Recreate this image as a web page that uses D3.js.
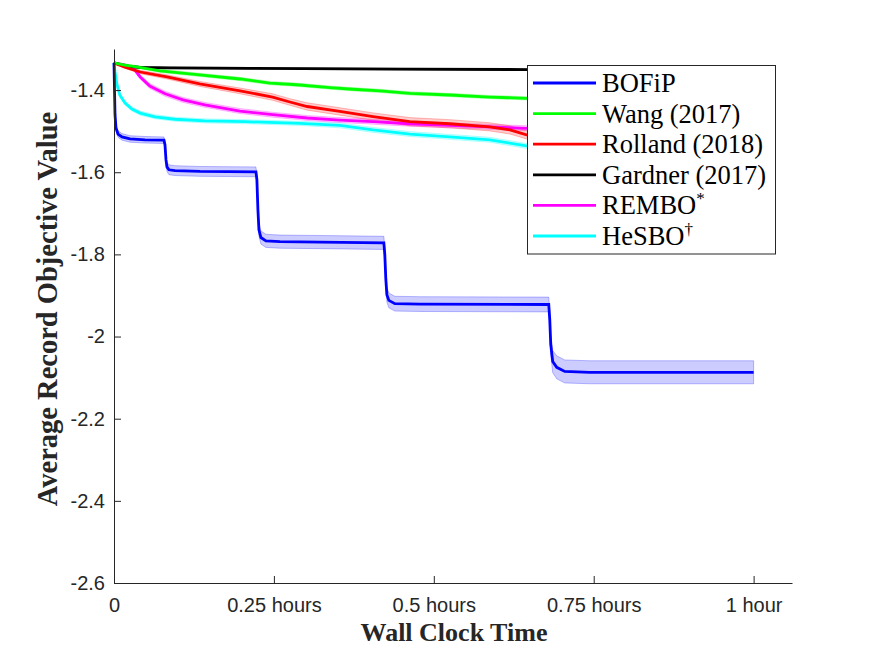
<!DOCTYPE html>
<html>
<head>
<meta charset="utf-8">
<script src="https://cdn.jsdelivr.net/npm/d3@7"></script>
<style>
  body { margin: 0; background: #fff; }
  svg { display: block; }
  .axis path, .axis line { stroke: #262626; stroke-width: 1; }
  .axis text { font-family: "Liberation Sans", Arial, sans-serif; font-size: 20px; fill: #262626; }
  .label { font-family: "Liberation Serif", "Times New Roman", serif; font-weight: bold; fill: #262626; }
  .legend text { font-family: "Liberation Serif", "Times New Roman", serif; font-size: 26.5px; fill: #000; }
  .band { fill-opacity: 0.2; stroke-opacity: 0.25; stroke-width: 1; }
  .line { fill: none; stroke-width: 2.8; }
</style>
</head>
<body>
<svg></svg>
<script>
const hourTicks = [0, 0.25, 0.5, 0.75, 1];
const hourLabels = ["0", "0.25 hours", "0.5 hours", "0.75 hours", "1 hour"];
const valueTicks = [-1.4, -1.6, -1.8, -2, -2.2, -2.4, -2.6];

const methodNames = ["BOFiP", "Wang (2017)", "Rolland (2018)", "Gardner (2017)", "REMBO", "HeSBO"];
const methodMarks = ["", "", "", "", "*", "\u2020"];
const methodColors = ["#0000ff", "#00ff00", "#ff0000", "#000000", "#ff00ff", "#00ffff"];

// each point: [hours, average record value, half width of the shaded band]
const bofip = [
  [0, -1.334, 0.002], [0.0008, -1.4, 0.004], [0.0016, -1.46, 0.006], [0.0031, -1.492, 0.007],
  [0.0063, -1.507, 0.008], [0.0125, -1.514, 0.008], [0.025, -1.519, 0.008], [0.0484, -1.521, 0.008],
  [0.0781, -1.522, 0.008], [0.0797, -1.533, 0.009], [0.0813, -1.57, 0.01], [0.0828, -1.587, 0.011],
  [0.0859, -1.594, 0.012], [0.0953, -1.596, 0.012], [0.1344, -1.598, 0.012], [0.2219, -1.599, 0.012],
  [0.2234, -1.618, 0.013], [0.225, -1.691, 0.014], [0.2266, -1.74, 0.015], [0.2297, -1.759, 0.016],
  [0.2375, -1.767, 0.016], [0.2594, -1.769, 0.016], [0.3219, -1.77, 0.016], [0.4219, -1.772, 0.016],
  [0.4234, -1.801, 0.017], [0.425, -1.861, 0.018], [0.4266, -1.898, 0.018], [0.4297, -1.912, 0.018],
  [0.4391, -1.92, 0.018], [0.4781, -1.921, 0.018], [0.6797, -1.922, 0.018], [0.6813, -1.959, 0.02],
  [0.6828, -2.019, 0.024], [0.6859, -2.061, 0.027], [0.6922, -2.075, 0.028], [0.7047, -2.085, 0.028],
  [0.7438, -2.087, 0.028], [1, -2.087, 0.028]
];
const wang = [
  [0, -1.334, 0.002], [0.017, -1.339, 0.003], [0.0375, -1.344, 0.003], [0.072, -1.353, 0.004],
  [0.134, -1.363, 0.004], [0.197, -1.373, 0.004], [0.244, -1.383, 0.004], [0.286, -1.387, 0.004],
  [0.3375, -1.394, 0.004], [0.373, -1.398, 0.004], [0.416, -1.402, 0.004], [0.4625, -1.408, 0.004],
  [0.525, -1.412, 0.004], [0.5875, -1.417, 0.004], [0.645, -1.42, 0.004], [0.759, -1.426, 0.004],
  [0.884, -1.431, 0.004], [1, -1.436, 0.004]
];
const rolland = [
  [0, -1.334, 0.002], [0.017, -1.344, 0.003], [0.041, -1.356, 0.004], [0.083, -1.368, 0.005],
  [0.134, -1.385, 0.006], [0.197, -1.402, 0.007], [0.248, -1.417, 0.008], [0.275, -1.429, 0.008],
  [0.302, -1.44, 0.009], [0.353, -1.452, 0.009], [0.405, -1.4645, 0.009], [0.4625, -1.477, 0.01],
  [0.525, -1.482, 0.01], [0.5875, -1.4895, 0.01], [0.619, -1.497, 0.01], [0.645, -1.509, 0.01],
  [0.759, -1.521, 0.01], [0.884, -1.536, 0.01], [1, -1.545, 0.01]
];
const gardner = [
  [0, -1.334, 0.002], [0.017, -1.341, 0.002], [0.041, -1.345, 0.002], [0.0875, -1.346, 0.002],
  [0.2125, -1.347, 0.002], [0.447, -1.349, 0.002], [0.645, -1.35, 0.002], [1, -1.351, 0.002]
];
const rembo = [
  [0, -1.334, 0.002], [0.017, -1.339, 0.003], [0.03, -1.346, 0.004], [0.041, -1.368, 0.005],
  [0.056, -1.39, 0.006], [0.08, -1.409, 0.006], [0.108, -1.424, 0.006], [0.142, -1.436, 0.006],
  [0.197, -1.451, 0.006], [0.248, -1.46, 0.006], [0.302, -1.468, 0.006], [0.353, -1.473, 0.006],
  [0.405, -1.477, 0.006], [0.4625, -1.482, 0.006], [0.525, -1.486, 0.006], [0.5875, -1.4895, 0.006],
  [0.645, -1.493, 0.006], [0.759, -1.499, 0.006], [0.884, -1.507, 0.006], [1, -1.511, 0.006]
];
const hesbo = [
  [0, -1.334, 0.002], [0.0016, -1.356, 0.003], [0.0047, -1.387, 0.004], [0.009, -1.412, 0.005],
  [0.017, -1.431, 0.005], [0.028, -1.446, 0.005], [0.041, -1.456, 0.005], [0.064, -1.465, 0.005],
  [0.095, -1.471, 0.005], [0.142, -1.475, 0.005], [0.205, -1.477, 0.005], [0.291, -1.481, 0.005],
  [0.353, -1.486, 0.006], [0.405, -1.497, 0.006], [0.4625, -1.507, 0.006], [0.525, -1.514, 0.006],
  [0.5875, -1.521, 0.006], [0.645, -1.536, 0.006], [0.759, -1.55, 0.006], [0.884, -1.565, 0.006],
  [1, -1.579, 0.006]
];

const series = [bofip, wang, rolland, gardner, rembo, hesbo];
// plotting order, last one ends up on top
const drawOrder = [5, 4, 3, 2, 1, 0];

const svg = d3.select("svg").attr("width", 875).attr("height", 656);

const xScale = d3.scaleLinear().domain([0, 1.06]).range([114, 792]);
const yScale = d3.scaleLinear().domain([-2.6, -1.3]).range([583, 49]);

const band = d3
  .area()
  .x(d => xScale(d[0]))
  .y0(d => yScale(d[1] - d[2]))
  .y1(d => yScale(d[1] + d[2]));

const line = d3
  .line()
  .x(d => xScale(d[0]))
  .y(d => yScale(d[1]));

svg
  .selectAll("path.band")
  .data(drawOrder)
  .enter()
  .append("path")
  .attr("class", "band")
  .attr("d", i => band(series[i]))
  .attr("fill", i => methodColors[i])
  .attr("stroke", i => methodColors[i]);

svg
  .selectAll("path.line")
  .data(drawOrder)
  .enter()
  .append("path")
  .attr("class", "line")
  .attr("d", i => line(series[i]))
  .attr("stroke", i => methodColors[i]);

svg
  .append("g")
  .attr("class", "axis")
  .attr("transform", `translate(0, ${yScale.range()[0]})`)
  .call(
    d3
      .axisBottom(xScale)
      .tickValues(hourTicks)
      .tickFormat((d, i) => hourLabels[i])
      .tickSizeInner(-7)
      .tickSizeOuter(0)
      .tickPadding(15)
  );

svg
  .append("g")
  .attr("class", "axis")
  .attr("transform", `translate(${xScale.range()[0]}, 0)`)
  .call(
    d3
      .axisLeft(yScale)
      .tickValues(valueTicks)
      .tickFormat(d => d3.format("")(d).replace("\u2212", "-"))
      .tickSizeInner(-7)
      .tickSizeOuter(0)
      .tickPadding(9)
  );

svg.selectAll(".axis .domain").attr("fill", "none");

svg
  .append("text")
  .attr("class", "label")
  .attr("x", 454)
  .attr("y", 641)
  .attr("text-anchor", "middle")
  .style("font-size", "26px")
  .text("Wall Clock Time");

svg
  .append("text")
  .attr("class", "label")
  .attr("transform", "translate(57, 309) rotate(-90)")
  .attr("text-anchor", "middle")
  .style("font-size", "28.5px")
  .text("Average Record Objective Value");

// legend
const legend = svg.append("g").attr("class", "legend");

legend
  .append("rect")
  .attr("x", 527.5)
  .attr("y", 65.5)
  .attr("width", 248)
  .attr("height", 188.5)
  .attr("fill", "#fff")
  .attr("stroke", "#262626")
  .attr("stroke-width", 1);

const rows = legend
  .selectAll("g.row")
  .data(methodNames)
  .enter()
  .append("g")
  .attr("class", "row")
  .attr("transform", (d, i) => `translate(0, ${83 + i * 30.6})`);

rows
  .append("line")
  .attr("x1", 533)
  .attr("x2", 596)
  .attr("y1", 0)
  .attr("y2", 0)
  .attr("stroke", (d, i) => methodColors[i])
  .attr("stroke-width", 2.8);

const labels = rows
  .append("text")
  .attr("x", 602)
  .attr("y", 9);

labels.append("tspan").text(d => d);

labels
  .append("tspan")
  .attr("dy", -10)
  .style("font-size", "17px")
  .text((d, i) => methodMarks[i]);
</script>
</body>
</html>
